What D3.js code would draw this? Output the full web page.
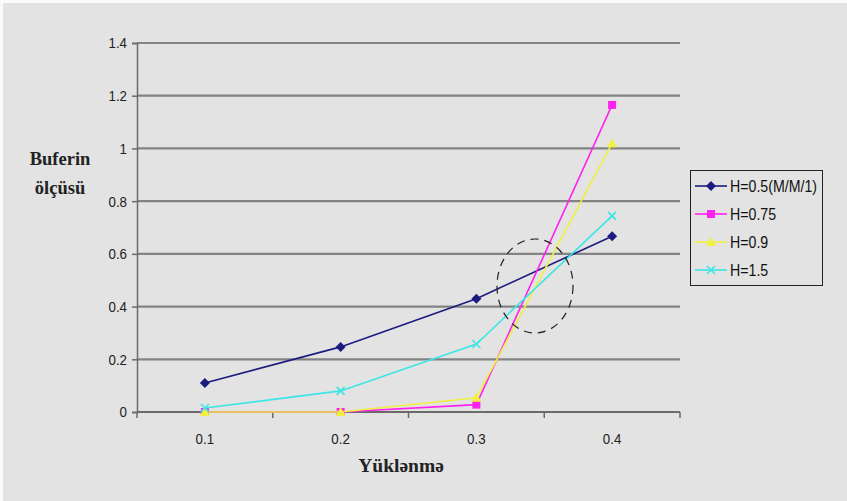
<!DOCTYPE html>
<html><head><meta charset="utf-8">
<script src="https://cdn.jsdelivr.net/npm/d3@7"></script>
<style>html,body{margin:0;padding:0;background:#fff;}svg{display:block;}</style>
</head><body>
<script>
const categories = ["0.1", "0.2", "0.3", "0.4"];
const seriesNames = ["H=0.5(M/M/1)", "H=0.75", "H=0.9", "H=1.5"];
const h05 = [0.11, 0.247, 0.43, 0.667];
const h075 = [0, 0, 0.028, 1.165];
const h09 = [0, 0, 0.054, 1.02];
const h15 = [0.015, 0.08, 0.258, 0.744];
const yTicks = [0, 0.2, 0.4, 0.6, 0.8, 1, 1.2, 1.4];
const colors = ["#1c1c80", "#ff22ee", "#f0f040", "#3ce6e6"];
const markers = ["diamond", "square", "triangle", "x"];

(function () {
const W = 847, H = 501;
const tickFont = "'Liberation Sans', Arial, sans-serif";
const sx = 0.86;
const svg = d3.select("body").append("svg").attr("width", W).attr("height", H);
svg.append("rect").attr("width", W).attr("height", H).attr("fill", "#fafafa");
svg.append("rect").attr("x", 3).attr("y", 3).attr("width", W - 3).attr("height", H - 3).attr("fill", "#e3e3e3");

const pl = 137, pr = 680, pt = 43, pb = 412;
const x = d3.scaleBand().domain(categories).range([pl, pr]);
const y = d3.scaleLinear().domain([0, 1.4]).range([pb, pt]);

// gridlines
svg.append("g").selectAll("line").data(yTicks).join("line")
  .attr("x1", pl).attr("x2", pr)
  .attr("y1", d => y(d)).attr("y2", d => y(d))
  .attr("stroke", "#838383").attr("stroke-width", 2.2);

// y axis
const yAxis = svg.append("g").attr("transform", `translate(${pl},0)`)
  .call(d3.axisLeft(y).tickValues(yTicks).tickSize(5).tickPadding(5).tickFormat(d => d3.format("")(d)));
yAxis.select(".domain").attr("stroke", "#6a6a6a").attr("stroke-width", 1.5);
yAxis.selectAll(".tick line").attr("stroke", "#6a6a6a").attr("stroke-width", 1.5);
yAxis.selectAll("text").attr("font-family", tickFont)
  .attr("font-size", 15.5).attr("fill", "#222")
  .attr("x", -10 / sx).attr("transform", `scale(${sx},1)`);

// x axis
const xAxis = svg.append("g").attr("transform", `translate(0,${pb})`)
  .call(d3.axisBottom(x).tickSize(0).tickPadding(21));
xAxis.select(".domain").remove();
xAxis.selectAll("text").attr("font-family", tickFont)
  .attr("font-size", 15.5).attr("fill", "#222").attr("transform", `scale(${sx},1)`);
// boundary ticks
const bounds = categories.map(c => x(c)).concat([x(categories[categories.length - 1]) + x.bandwidth()]);
svg.append("g").selectAll("line").data(bounds).join("line")
  .attr("x1", d => d).attr("x2", d => d).attr("y1", pb).attr("y2", pb + 6)
  .attr("stroke", "#6a6a6a").attr("stroke-width", 1.5);
svg.append("line").attr("x1", pl).attr("x2", pr).attr("y1", pb).attr("y2", pb)
  .attr("stroke", "#6a6a6a").attr("stroke-width", 2);

const cx = c => x(c) + x.bandwidth() / 2;
const allSeries = [h05, h075, h09, h15];

function drawMarker(g, type, px, py, color) {
  if (type === "diamond") {
    g.append("path").attr("d", `M${px},${py-5}L${px+5},${py}L${px},${py+5}L${px-5},${py}Z`).attr("fill", color);
  } else if (type === "square") {
    g.append("rect").attr("x", px - 4).attr("y", py - 4).attr("width", 8).attr("height", 8).attr("fill", color);
  } else if (type === "triangle") {
    g.append("path").attr("d", `M${px},${py-5}L${px+5},${py+4}L${px-5},${py+4}Z`).attr("fill", color);
  } else {
    g.append("path").attr("d", `M${px-4},${py-4}L${px+4},${py+4}M${px-4},${py+4}L${px+4},${py-4}`)
      .attr("stroke", color).attr("stroke-width", 1.6).attr("fill", "none");
  }
}

const line = d3.line().x((d, i) => cx(categories[i])).y(d => y(d));
allSeries.forEach((s, k) => {
  const g = svg.append("g");
  g.append("path").datum(s).attr("d", line).attr("fill", "none")
    .attr("stroke", colors[k]).attr("stroke-width", 1.6);
  s.forEach((v, i) => drawMarker(g, markers[k], cx(categories[i]), y(v), colors[k]));
});

// dashed annotation ellipse
svg.append("ellipse").attr("cx", 535).attr("cy", 286).attr("rx", 38).attr("ry", 47)
  .attr("fill", "none").attr("stroke", "#222").attr("stroke-width", 1.2)
  .attr("stroke-dasharray", "8,6");

// legend
const lg = svg.append("g");
lg.append("rect").attr("x", 690.5).attr("y", 170.5).attr("width", 132).attr("height", 115)
  .attr("fill", "#e3e3e3").attr("stroke", "#222").attr("stroke-width", 1);
seriesNames.forEach((n, k) => {
  const ly = 186 + k * 28;
  lg.append("line").attr("x1", 695).attr("x2", 727).attr("y1", ly).attr("y2", ly)
    .attr("stroke", colors[k]).attr("stroke-width", 1.6);
  drawMarker(lg, markers[k], 711, ly, colors[k]);
  lg.append("text").attr("transform", `translate(730,${ly + 6}) scale(${sx},1)`).text(n)
    .attr("font-family", tickFont).attr("font-size", 16.5).attr("fill", "#111");
});

// axis titles
svg.append("text").attr("x", 401).attr("y", 472).attr("text-anchor", "middle").text("Yüklənmə")
  .attr("font-family", "Liberation Serif, Times New Roman, serif").attr("font-weight", "bold")
  .attr("font-size", 19.5).attr("fill", "#222");
const yt = svg.append("text").attr("text-anchor", "middle")
  .attr("font-family", "Liberation Serif, Times New Roman, serif").attr("font-weight", "bold")
  .attr("font-size", 18.5).attr("fill", "#222");
yt.append("tspan").attr("x", 60).attr("y", 165).text("Buferin");
yt.append("tspan").attr("x", 60).attr("y", 194).text("ölçüsü");
})();
</script>
</body></html>
